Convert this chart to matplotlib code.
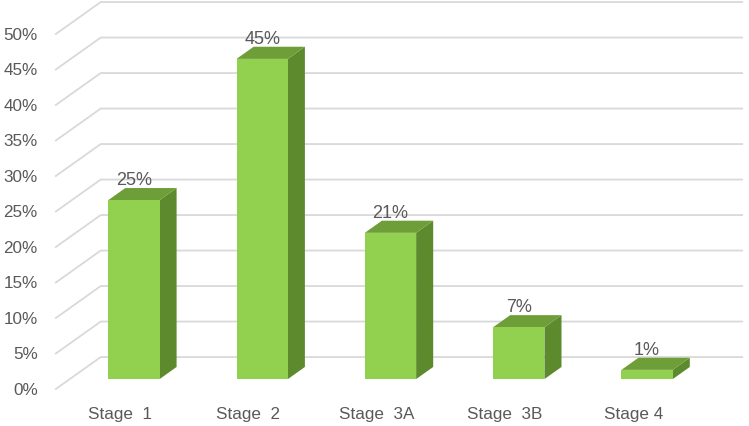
import matplotlib.pyplot as plt
from matplotlib.patches import Polygon

plt.rcParams['font.family'] = ['Liberation Sans', 'DejaVu Sans']

stages = ["Stage  1", "Stage  2", "Stage  3A", "Stage  3B", "Stage 4"]
shares = [25.2, 45.1, 20.6, 7.3, 1.3]   # percent
label_text = ["25%", "45%", "21%", "7%", "1%"]
yticks = [0, 5, 10, 15, 20, 25, 30, 35, 40, 45, 50]

FRONT = "#92D050"
TOP = "#6E9E38"
SIDE = "#5E8A2E"
GRID = "#D9D9D9"
TEXT = "#595959"

# oblique projection: depth z in [0, 1], 0 = front floor edge, 1 = back wall
OX, OY = 0.35, 4.5          # shift (categories, percent) for z = 1
Z0, Z1 = 0.31, 0.69          # bar front / back depth
HALF = 0.2                   # half bar width in categories


def proj(x, y, z):
    return x + z * OX, y + z * OY


fig = plt.figure(figsize=(7.49, 4.27), dpi=100)
ax = fig.add_axes([0, 0, 1, 1])
ax.set_xlim(-0.935, 4.903)
ax.set_ylim(-5.21, 54.93)
ax.axis("off")

x0, x1 = -0.5, len(stages) - 0.5

# gridlines: diagonal on the left side wall + horizontal on back wall
for v in yticks:
    a = proj(x0, v, 0)
    b = proj(x0, v, 1)
    c = proj(x1, v, 1)
    ax.plot([a[0], b[0], c[0]], [a[1], b[1], c[1]], color=GRID, lw=1.3, zorder=1)
    ax.text(a[0] - 0.14, a[1], f"{v}%", ha="right", va="center",
            fontsize=12.3, color=TEXT)

for i, (val, lab) in enumerate(zip(shares, label_text)):
    l, r = i - HALF, i + HALF
    front = [proj(l, 0, Z0), proj(r, 0, Z0), proj(r, val, Z0), proj(l, val, Z0)]
    side = [proj(r, 0, Z0), proj(r, 0, Z1), proj(r, val, Z1), proj(r, val, Z0)]
    top = [proj(l, val, Z0), proj(r, val, Z0), proj(r, val, Z1), proj(l, val, Z1)]
    ax.add_patch(Polygon(side, closed=True, facecolor=SIDE, edgecolor="none", zorder=3))
    ax.add_patch(Polygon(top, closed=True, facecolor=TOP, edgecolor="none", zorder=3))
    ax.add_patch(Polygon(front, closed=True, facecolor=FRONT, edgecolor="none", zorder=4))

    cx, cy = proj(i, val, Z1)
    fx, _ = proj(i, val, Z0)
    ax.annotate(lab, (fx, cy), xytext=(0, 0), textcoords="offset points",
                ha="center", va="bottom", fontsize=13, color=TEXT, zorder=5)

    lx, ly = proj(i, 0, 0)
    ax.text(lx, ly - 3.4, stages[i], ha="center", va="center",
            fontsize=12.3, color=TEXT)

fig.savefig("out.png", dpi=100)
